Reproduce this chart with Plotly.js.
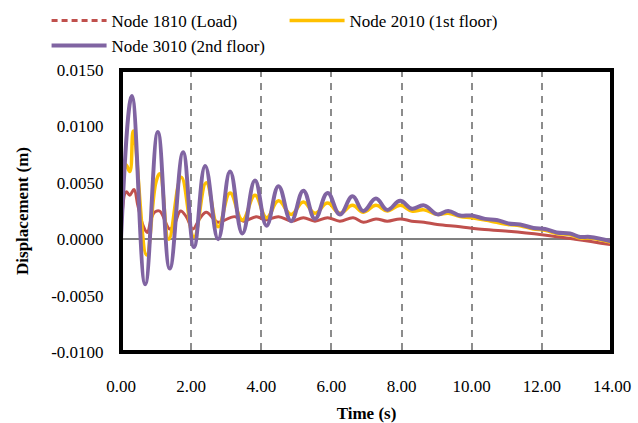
<!DOCTYPE html>
<html>
<head>
<meta charset="utf-8">
<script src="https://cdn.plot.ly/plotly-3.0.1.min.js"></script>
<style>html,body{margin:0;padding:0;background:#fff;}#chart{width:638px;height:423px;}</style>
</head>
<body>
<div id="chart"></div>
<script>
// Node 1810 (Load)
const tLoad = [0.03, 0.15, 0.25, 0.37, 0.48, 0.63, 0.75, 0.86, 0.96, 1.10, 1.39, 1.53, 1.70, 1.86, 2.05, 2.24, 2.43, 2.67, 2.77, 3.25, 3.49, 3.87, 4.11, 4.49, 4.87, 5.20, 5.53, 5.89, 6.24, 6.62, 6.91, 7.27, 7.59, 7.96, 8.29, 8.64, 9.02, 9.67, 10.19, 11.04, 12.00, 12.95, 14.00];
const yLoad = [0.0021, 0.0042, 0.0039, 0.0044, 0.0030, 0.0012, 0.0006, 0.0018, 0.0024, 0.0025, 0.0009, 0.0014, 0.0025, 0.0020, 0.0009, 0.0018, 0.0024, 0.0017, 0.0015, 0.0020, 0.0016, 0.0020, 0.0017, 0.0020, 0.0016, 0.0019, 0.0016, 0.0019, 0.0016, 0.0019, 0.0015, 0.0018, 0.0016, 0.0018, 0.0016, 0.0015, 0.0013, 0.0011, 0.0009, 0.0007, 0.0004, 0.0000, -0.0005];

// Node 2010 (1st floor)
const tFirst = [0.00, 0.14, 0.25, 0.35, 0.73, 1.00, 1.11, 1.36, 1.72, 2.08, 2.43, 2.77, 3.11, 3.46, 3.82, 4.15, 4.49, 4.85, 5.20, 5.53, 5.89, 6.24, 6.60, 6.91, 7.27, 7.59, 7.96, 8.29, 8.64, 9.02, 9.33, 9.67, 10.00, 10.38, 10.71, 11.04, 11.38, 11.76, 12.09, 12.42, 12.80, 13.09, 13.37, 14.00];
const yFirst = [0.0000, 0.0066, 0.0060, 0.0096, -0.0014, 0.0051, 0.0058, 0.0000, 0.0055, 0.0002, 0.0050, 0.0011, 0.0041, 0.0017, 0.0039, 0.0019, 0.0034, 0.0022, 0.0033, 0.0023, 0.0032, 0.0023, 0.0030, 0.0024, 0.0030, 0.0025, 0.0030, 0.0025, 0.0026, 0.0022, 0.0023, 0.0020, 0.0019, 0.0017, 0.0015, 0.0013, 0.0012, 0.0009, 0.0008, 0.0005, 0.0004, 0.0001, 0.0001, -0.0003];

// Node 3010 (2nd floor)
const tSecond = [0.00, 0.31, 0.69, 1.05, 1.39, 1.77, 2.08, 2.40, 2.77, 3.11, 3.46, 3.82, 4.15, 4.49, 4.85, 5.20, 5.53, 5.89, 6.24, 6.60, 6.91, 7.27, 7.59, 7.96, 8.29, 8.64, 9.02, 9.33, 9.67, 10.00, 10.38, 10.71, 11.04, 11.38, 11.76, 12.09, 12.42, 12.80, 13.09, 13.37, 14.00];
const ySecond = [0.0000, 0.0127, -0.0040, 0.0095, -0.0026, 0.0077, -0.0007, 0.0065, 0.0000, 0.0060, 0.0005, 0.0052, 0.0012, 0.0047, 0.0016, 0.0043, 0.0018, 0.0041, 0.0022, 0.0038, 0.0025, 0.0036, 0.0026, 0.0034, 0.0027, 0.0030, 0.0022, 0.0025, 0.0021, 0.0021, 0.0018, 0.0017, 0.0014, 0.0013, 0.0010, 0.0009, 0.0006, 0.0005, 0.0002, 0.0002, -0.0002];

const names = ['Node 1810 (Load)', 'Node 2010 (1st floor)', 'Node 3010 (2nd floor)'];
const xTicks = [0, 2, 4, 6, 8, 10, 12, 14];
const xTickText = ['0.00', '2.00', '4.00', '6.00', '8.00', '10.00', '12.00', '14.00'];
const yTicks = [-0.01, -0.005, 0, 0.005, 0.01, 0.015];
const yTickText = ['-0.0100', '-0.0050', '0.0000', '0.0050', '0.0100', '0.0150'];

const FONT = "'Liberation Serif', 'Times New Roman', serif";
const colors = ['#C0504D', '#FFC000', '#8064A2'];

const traces = [
  {x: [null], y: [null], mode: 'lines', name: names[0], line: {color: colors[0], width: 3, dash: '6px,4px'}, showlegend: true, hoverinfo: 'skip'},
  {x: tLoad, y: yLoad, mode: 'lines', name: names[0], line: {color: colors[0], width: 3, shape: 'spline', smoothing: 1.1}, showlegend: false},
  {x: tFirst, y: yFirst, mode: 'lines', name: names[1], line: {color: colors[1], width: 3.5, shape: 'spline', smoothing: 1.2}},
  {x: tSecond, y: ySecond, mode: 'lines', name: names[2], line: {color: colors[2], width: 4, shape: 'spline', smoothing: 1.2}}
];

const layout = {
  width: 638, height: 423,
  margin: {l: 121, r: 26, t: 70, b: 71},
  paper_bgcolor: '#fff', plot_bgcolor: '#fff',
  font: {family: FONT, size: 17, color: '#000'},
  showlegend: true,
  legend: {
    orientation: 'h', xref: 'container', yref: 'container',
    x: 0.073, xanchor: 'left', y: 0.993, yanchor: 'top',
    entrywidth: 168, entrywidthmode: 'pixels', itemwidth: 55,
    font: {family: FONT, size: 17, color: '#000'}, bgcolor: 'rgba(0,0,0,0)', tracegroupgap: 0
  },
  xaxis: {
    range: [0, 14], tickmode: 'array', tickvals: xTicks, ticktext: xTickText,
    showgrid: true, gridcolor: '#8c8c8c', gridwidth: 2, griddash: '7px,6px',
    zeroline: false, showline: false, ticks: '', ticklabelstandoff: 22,
    tickfont: {family: FONT, size: 17, color: '#000'},
    title: {text: '<b>Time (s)</b>', font: {family: FONT, size: 17, color: '#000'}, standoff: 12}
  },
  yaxis: {
    range: [-0.01, 0.015], tickmode: 'array', tickvals: yTicks, ticktext: yTickText,
    showgrid: false, zeroline: true, zerolinecolor: '#808080', zerolinewidth: 2,
    showline: true, linecolor: '#808080', linewidth: 2, ticks: '', ticklabelstandoff: 12,
    tickfont: {family: FONT, size: 17, color: '#000'},
    title: {text: '<b>Displacement (m)</b>', font: {family: FONT, size: 17, color: '#000'}, standoff: 18}
  },
  shapes: [
    {type: 'rect', xref: 'paper', yref: 'paper', x0: 0, x1: 1, y0: 0, y1: 1, line: {color: '#000', width: 4}, layer: 'above'}
  ]
};

Plotly.newPlot('chart', traces, layout, {displayModeBar: false, staticPlot: true});
</script>
</body>
</html>
